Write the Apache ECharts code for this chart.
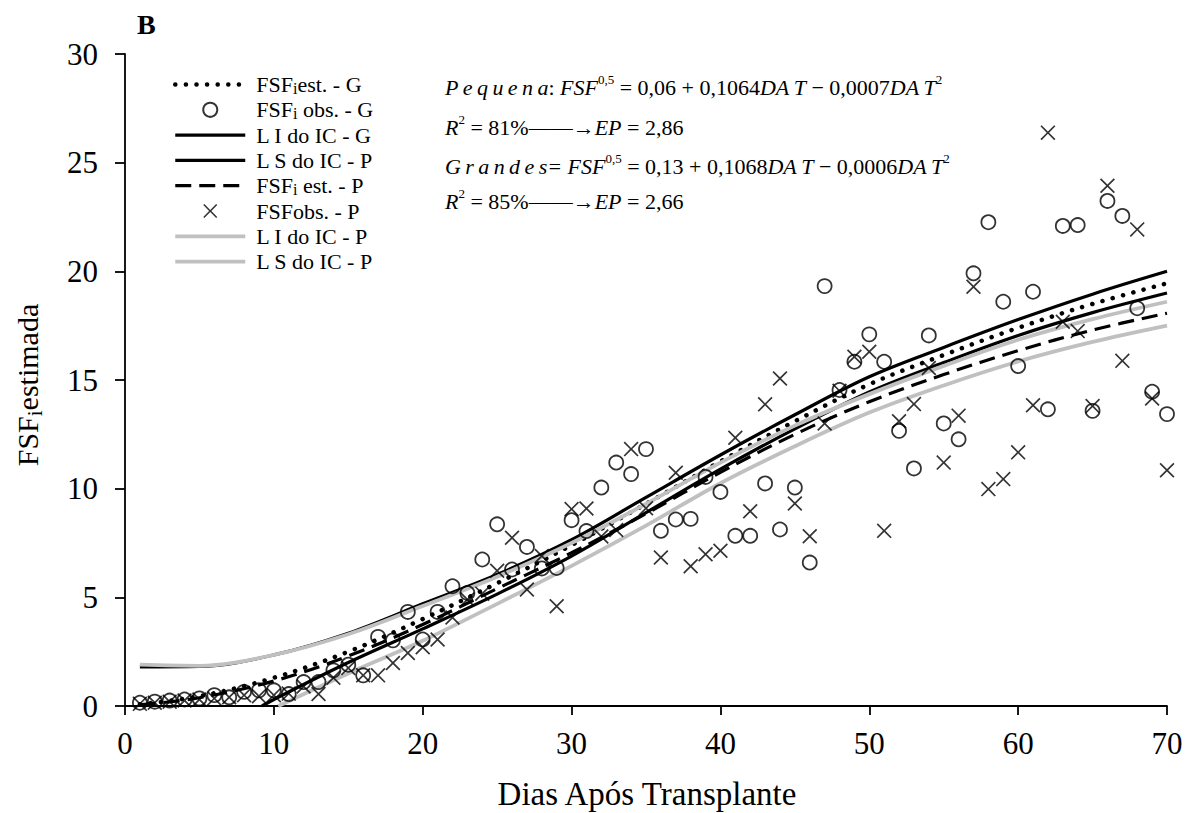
<!DOCTYPE html>
<html><head><meta charset="utf-8">
<script src="https://cdn.jsdelivr.net/npm/echarts@6/dist/echarts.min.js"></script>
<style>html,body{margin:0;padding:0;background:#fff}#c{width:1187px;height:813px}</style>
</head><body><div id="c"></div>
<script>
// ---- data ----
const xTicks = [0, 10, 20, 30, 40, 50, 60, 70];
const yTicks = [0, 5, 10, 15, 20, 25, 30];
const curveX = [1, 5, 10, 15, 20, 25, 30, 35, 40, 45, 50, 55, 60, 65, 70];
const estG   = [0.08, 0.45, 1.3, 2.5, 4.0, 5.65, 7.4, 9.3, 11.25, 13.1, 14.8, 16.15, 17.4, 18.5, 19.45];
const estP   = [0.05, 0.38, 1.15, 2.3, 3.75, 5.4, 7.05, 8.85, 10.75, 12.5, 14.0, 15.25, 16.35, 17.3, 18.07];
const upperG = [1.8, 1.82, 2.35, 3.35, 4.7, 6.05, 7.65, 9.6, 11.55, 13.4, 15.15, 16.5, 17.78, 18.95, 20.0];
const upperP = [1.9, 1.85, 2.35, 3.3, 4.6, 5.95, 7.5, 9.3, 11.2, 12.9, 14.35, 15.65, 16.85, 17.8, 18.6];
const lowerGX = [9.2, 10, 15, 20, 25, 30, 35, 40, 45, 50, 55, 60, 65, 70];
const lowerG  = [0, 0.3, 2.0, 3.55, 5.15, 6.9, 8.9, 10.9, 12.75, 14.45, 15.8, 17.05, 18.1, 19.0];
const lowerPX = [10.3, 15, 20, 25, 30, 35, 40, 45, 50, 55, 60, 65, 70];
const lowerP  = [0, 1.5, 3.0, 4.7, 6.45, 8.3, 10.25, 11.95, 13.5, 14.75, 15.85, 16.75, 17.5];

const obsGX = [1,2,3,4,5,6,7,8,9,10,11,12,13,14,15,16,17,18,19,20,21,22,23,24,25,26,27,28,29,30,31,32,33,34,35,36,37,38,39,40,41,42,43,44,45,46,47,48,49,50,51,52,53,54,55,56,57,58,59,60,61,62,63,64,65,66,67,68,69,70];
const obsG  = [0.15,0.2,0.25,0.3,0.35,0.5,0.4,0.65,0.72,0.72,0.55,1.1,1.1,1.64,1.9,1.41,3.18,3.02,4.33,3.06,4.33,5.51,5.2,6.74,8.36,6.28,7.32,6.33,6.35,8.55,8.05,10.05,11.2,10.67,11.82,8.06,8.58,8.61,10.54,9.85,7.83,7.83,10.24,8.12,10.05,6.6,19.32,14.54,15.84,17.1,15.84,12.66,10.93,17.05,13.0,12.27,19.91,22.26,18.6,15.64,19.06,13.65,22.09,22.13,13.58,23.24,22.55,18.3,14.46,13.43];
const obsPX = [1,2,3,4,5,6,7,8,9,10,11,12,13,14,15,16,17,18,19,20,21,22,23,24,25,26,27,28,29,30,31,32,33,34,35,36,37,38,39,40,41,42,43,44,45,46,47,48,49,50,51,52,53,54,55,56,57,58,59,60,61,62,63,64,65,66,67,68,69,70];
const obsP  = [0.1,0.15,0.2,0.25,0.3,0.35,0.4,0.5,0.45,0.5,0.57,0.9,0.55,1.3,1.75,1.41,1.41,1.98,2.44,2.7,3.06,4.07,4.9,5.17,6.22,7.74,5.36,6.9,4.59,9.06,9.09,7.8,8.1,11.82,9.1,6.83,10.73,6.43,6.98,7.14,12.34,8.96,13.88,15.07,9.32,7.81,13.0,14.5,16.07,16.3,8.06,13.1,13.89,15.55,11.2,13.36,19.29,9.98,10.44,11.67,13.84,26.38,17.68,17.25,13.8,23.94,15.88,21.93,14.15,10.85];

const legendText = {
  GE: '{a|FSF}{s|i}{a|est. - G}',
  GO: '{a|FSF}{s|i}{a| obs. - G}',
  LIG: '{a|L I do IC - G}',
  LSG: '{a|L S do IC - P}',
  PE: '{a|FSF}{s|i}{a| est. - P}',
  PO: '{a|FSFobs. - P}',
  LIP: '{a|L I do IC - P}',
  LSP: '{a|L S do IC - P}'
};

const FONT = "'Liberation Serif','Times New Roman',serif";
const zip = (xs, ys) => xs.map((x, i) => [x, ys[i]]);
const crossPath = 'path://M0,1.6L1.6,0L10,8.4L18.4,0L20,1.6L11.6,10L20,18.4L18.4,20L10,11.6L1.6,20L0,18.4L8.4,10Z';

const styles = {
  GE: { color: '#000', width: 4.5, type: [0.1, 10.5], cap: 'round' },
  LIG: { color: '#000', width: 3.2, type: 'solid' },
  LSG: { color: '#000', width: 3.2, type: 'solid' },
  PE: { color: '#000', width: 3.2, type: [16, 8] },
  LIP: { color: '#c0c0c0', width: 3.8, type: 'solid' },
  LSP: { color: '#c0c0c0', width: 3.8, type: 'solid' }
};

function lineSeries(name, data) {
  return { name, type: 'line', data, smooth: 0.35, showSymbol: false, symbol: 'none',
    clip: true, lineStyle: styles[name], itemStyle: { color: 'rgba(0,0,0,0)', opacity: 0 }, z: 2 };
}
const hidden = { color: 'rgba(0,0,0,0)', borderColor: 'rgba(0,0,0,0)', borderWidth: 0, opacity: 0 };
const legendData = ['GE', 'GO', 'LIG', 'LSG', 'PE', 'PO', 'LIP', 'LSP'].map(n =>
  styles[n] ? { name: n, itemStyle: hidden, lineStyle: styles[n] } : { name: n });

function eqRich() {
  return {
    i: { fontFamily: FONT, fontStyle: 'italic', fontSize: 22, fill: '#000', lineHeight: 28 },
    n: { fontFamily: FONT, fontSize: 22, fill: '#000', lineHeight: 28 },
    p: { fontFamily: FONT, fontSize: 13, fill: '#000', lineHeight: 28, verticalAlign: 'top' }
  };
}

const chart = echarts.init(document.getElementById('c'), null, { renderer: 'svg' });
chart.setOption({
  animation: false,
  backgroundColor: '#fff',
  grid: { left: 125, right: 20, top: 54, bottom: 107, containLabel: false },
  xAxis: {
    type: 'value', min: 0, max: 70, interval: 10,
    axisLine: { show: true, onZero: false, lineStyle: { color: '#000', width: 1.8 } },
    axisTick: { show: true, length: 9, inside: false, lineStyle: { color: '#000', width: 1.8 } },
    axisLabel: { color: '#000', fontFamily: FONT, fontSize: 31, margin: 22,
      formatter: v => xTicks.includes(v) ? String(v) : '' },
    splitLine: { show: false }
  },
  yAxis: {
    type: 'value', min: 0, max: 30, interval: 5,
    axisLine: { show: true, lineStyle: { color: '#000', width: 1.8 } },
    axisTick: { show: true, length: 10, inside: false, lineStyle: { color: '#000', width: 1.8 } },
    axisLabel: { color: '#000', fontFamily: FONT, fontSize: 31, margin: 27,
      formatter: v => yTicks.includes(v) ? String(v) : '' },
    splitLine: { show: false }
  },
  legend: {
    orient: 'vertical', left: 168, top: 68, itemWidth: 70, itemHeight: 14, itemGap: 2.3,
    selectedMode: false,
    data: legendData,
    formatter: n => legendText[n],
    textStyle: {
      fontFamily: FONT, fontSize: 22, color: '#000', lineHeight: 23,
      padding: [0, 0, 0, 6],
      rich: {
        a: { fontFamily: FONT, fontSize: 22, color: '#000', lineHeight: 23 },
        s: { fontFamily: FONT, fontSize: 16, color: '#000', lineHeight: 14, verticalAlign: 'bottom' }
      }
    }
  },
  graphic: [
    { type: 'text', left: 137, top: 10, style: { text: 'B', font: "bold 28px " + FONT, fill: '#000' } },
    { type: 'text', x: 27, y: 385, rotation: Math.PI / 2,
      style: { text: '{a|FSF}{s|i}{a|estimada}', align: 'center', verticalAlign: 'middle',
        rich: { a: { fontFamily: FONT, fontSize: 30, fill: '#000', lineHeight: 36 },
                s: { fontFamily: FONT, fontSize: 21, fill: '#000', lineHeight: 21, verticalAlign: 'bottom' } } } },
    { type: 'text', x: 647, y: 794,
      style: { text: 'Dias Após Transplante', align: 'center', verticalAlign: 'middle', font: "33px " + FONT, fill: '#000' } },
    { type: 'text', x: 445, y: 87,
      style: { text: '{i|P\u2009e\u2009q\u2009u\u2009e\u2009n\u2009a}{n|: }{i|FSF}{p|0,5}{n| = 0,06 + 0,1064}{i|DA\u2009T}{n| \u2212 0,0007}{i|DA\u2009T}{p|2}', verticalAlign: 'middle',
        rich: eqRich() } },
    { type: 'text', x: 445, y: 127,
      style: { text: '{i|R}{p|2}{n| = 81%\u2014\u2014\u2192}{i|EP}{n| = 2,86}', verticalAlign: 'middle', rich: eqRich() } },
    { type: 'text', x: 445, y: 166,
      style: { text: '{i|G\u2009r\u2009a\u2009n\u2009d\u2009e\u2009s= FSF}{p|0,5}{n| = 0,13 + 0,1068}{i|DA\u2009T}{n| \u2212 0,0006}{i|DA\u2009T}{p|2}', verticalAlign: 'middle',
        rich: eqRich() } },
    { type: 'text', x: 445, y: 201,
      style: { text: '{i|R}{p|2}{n| = 85%\u2014\u2014\u2192}{i|EP}{n| = 2,66}', verticalAlign: 'middle', rich: eqRich() } }
  ],
  series: [
    lineSeries('GE', zip(curveX, estG)),
    { name: 'GO', type: 'scatter', data: zip(obsGX, obsG), symbol: 'circle', symbolSize: 14, z: 3,
      itemStyle: { color: 'rgba(0,0,0,0)', borderColor: '#000', borderWidth: 1.8 } },
    lineSeries('LIG', zip(curveX, upperG)),
    lineSeries('LSG', zip(lowerGX, lowerG)),
    lineSeries('PE', zip(curveX, estP)),
    { name: 'PO', type: 'scatter', data: zip(obsPX, obsP), symbol: crossPath, symbolSize: 15, z: 3,
      itemStyle: { color: '#000', borderWidth: 0 } },
    lineSeries('LIP', zip(lowerPX, lowerP)),
    lineSeries('LSP', zip(curveX, upperP))
  ]
});
</script></body></html>
